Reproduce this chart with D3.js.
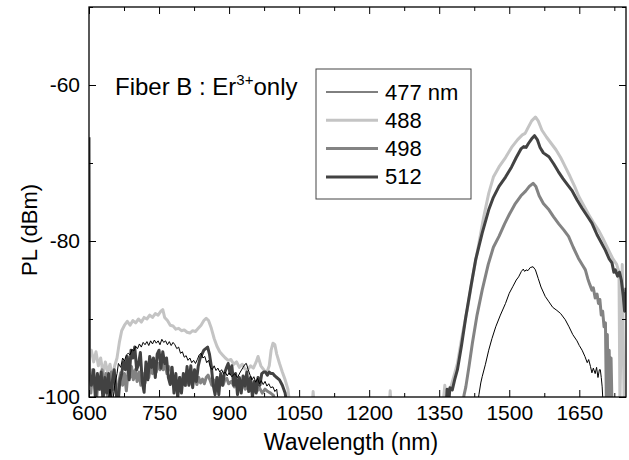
<!DOCTYPE html>
<html>
<head>
<meta charset="utf-8">
<script src="https://cdn.jsdelivr.net/npm/d3@7"></script>
<style>
  body { margin: 0; background: #fff; }
  text { font-family: "Liberation Sans", Arial, sans-serif; fill: #000; }
</style>
</head>
<body>
<div id="canvas"></div>
<script>
"use strict"
let svgWidth = 629;
let svgHeight = 460;

// wavelength (nm), PL (dBm); values under -100 are off the bottom of the plot
let series477 = [
  [640,-101],[645,-99],[650,-101],[655,-98.5],[660,-97],[663,-95.7],[668,-96.2],[672,-95],[676,-95.4],[680,-94.6],
  [684,-94.4],[688,-94.6],[692,-93.9],[696,-94.1],[700,-93.5],[704,-93.8],[708,-93.2],[712,-93.6],[716,-93],[720,-93.3],
  [724,-92.9],[728,-93.4],[732,-92.8],[736,-93.2],[740,-92.7],[744,-93.1],[748,-92.8],[752,-93.3],[756,-92.6],[760,-93],
  [764,-92.8],[768,-93.3],[772,-92.9],[776,-93.4],[780,-93],[784,-93.3],[788,-93.8],[792,-93.6],[796,-94.4],[800,-94.2],
  [804,-94.9],[808,-94.7],[812,-95.3],[816,-95],[820,-95.6],[824,-95.3],[828,-95.7],[832,-95.2],[836,-94.6],[840,-94.4],
  [844,-95],[848,-94.8],[852,-95.6],[856,-95.3],[860,-96.2],[864,-96.5],[868,-96],[872,-96.6],[876,-96.3],[880,-96.8],
  [884,-96.5],[888,-97],[892,-96.8],[896,-97.3],[900,-96.9],[906,-97.4],[912,-97],[918,-97.5],[924,-96.8],[930,-96.2],
  [934,-95.8],[937,-95.7],[941,-96.5],[945,-97.2],[949,-97.8],[953,-97.4],[957,-98.1],[961,-97.6],[965,-98.3],[969,-97.9],
  [973,-98.4],[977,-98],[981,-98.6],[985,-98.3],[989,-98.8],[994,-98.7],[998,-99.3],[1002,-99],[1006,-101],
  [1432,-101],[1435,-99.7],[1439,-98.2],[1442,-97.4],[1449,-95.8],[1456,-94],[1463,-92.5],[1471,-91],[1481,-89.5],[1492,-88],
  [1500,-86.7],[1508,-85.8],[1515,-85],[1520,-84.6],[1526,-83.9],[1530,-83.6],[1533,-83.9],[1536,-83.7],[1540,-83.8],[1545,-83.4],
  [1551,-83.3],[1556,-83.7],[1562,-84.8],[1568,-85.9],[1577,-87.1],[1585,-87.8],[1593,-88.5],[1602,-88.9],[1610,-89.3],[1620,-90.1],
  [1628,-91],[1636,-92],[1645,-92.8],[1650,-93.4],[1656,-94],[1662,-94.8],[1667,-95.6],[1670,-95.2],[1674,-96.1],[1677,-96.9],
  [1680,-96.3],[1684,-97],[1687,-96.2],[1690,-97.5],[1693,-96.5],[1695,-96.5],[1697,-97.5],[1699,-98.7],[1701,-101]
];

let series488 = [
  [600,-95],[605,-94],[610,-95.5],[615,-94.2],[620,-96],[625,-95],[630,-97],[635,-95.5],[640,-96.8],[645,-95.8],
  [650,-97.5],[655,-96],[660,-95],[665,-93],[670,-91.5],[676,-90.8],[682,-90.3],[688,-90.8],[694,-90.2],[700,-90.5],
  [706,-90],[712,-90.4],[718,-89.8],[724,-90],[730,-89.5],[736,-89.8],[742,-89.3],[748,-89.5],[754,-89],[758,-88.8],
  [762,-89.8],[768,-90.2],[774,-90.8],[780,-90.9],[786,-91.3],[792,-91.2],[798,-91.5],[804,-91.4],[810,-91.7],[816,-91.8],
  [822,-91.5],[828,-91.6],[834,-91.2],[840,-90.8],[846,-90.2],[851,-89.9],[856,-90.2],[862,-91.2],[868,-92.5],[874,-93.5],
  [880,-94.2],[886,-94.6],[892,-95],[898,-95.3],[904,-95.2],[910,-95.8],[916,-95.5],[922,-96.2],[928,-95.8],[934,-96.4],
  [940,-96.5],[946,-96],[952,-96.3],[958,-95.5],[962,-94.8],[968,-96],[974,-96.5],[980,-97],[986,-96],[990,-94],
  [994,-93.1],[998,-93.3],[1002,-94.5],[1008,-95.7],[1014,-96.8],[1020,-97.8],[1026,-99],[1030,-101],
  [1078,-101],[1080,-99.3],[1082,-101],[1243,-101],[1245,-99.2],[1247,-101],
  [1358,-101],[1362,-98.5],[1365,-101],[1368,-99.5],[1375,-98.7],[1382,-97.2],[1389,-95.7],[1398,-92.5],[1410,-88.8],[1422,-84.5],
  [1435,-80.3],[1445,-77],[1456,-73.9],[1466,-71.8],[1478,-70.5],[1492,-69.3],[1505,-68],[1518,-67],[1528,-66.4],[1534,-66.2],
  [1540,-65.5],[1548,-64.6],[1556,-64.1],[1562,-64.6],[1570,-65.8],[1580,-66.7],[1590,-67.5],[1600,-68.3],[1610,-69.3],[1620,-70.5],
  [1630,-71.7],[1640,-73],[1649,-74.3],[1660,-75.5],[1670,-76.6],[1680,-77.6],[1691,-78.6],[1700,-79.6],[1713,-81.2],[1722,-82.3],
  [1730,-83],[1735,-84],[1737,-101],[1742,-83],[1746,-101]
];

let series498 = [
  [600,-97],[604,-99.5],[608,-96.5],[612,-98],[616,-100.5],[620,-97.5],[624,-99],[628,-96.5],[632,-98.8],[636,-97],
  [640,-100.5],[644,-98],[648,-96.8],[652,-99],[656,-97.5],[660,-100.5],[664,-98],[668,-96.9],[672,-98.5],[676,-97],
  [680,-99.2],[684,-96.5],[688,-97.5],[691,-96.1],[695,-97.8],[699,-96.5],[703,-98],[707,-96.8],[711,-98.5],[715,-97],
  [720,-98.2],[724,-96.8],[728,-97.5],[732,-96.1],[736,-97],[740,-95.9],[744,-96.8],[748,-95.7],[752,-96.5],[755,-95.7],
  [759,-96.5],[763,-95.8],[767,-97],[771,-96.1],[775,-96.5],[779,-97.5],[783,-98],[787,-98.5],[791,-98.7],[795,-97.5],
  [799,-98.3],[803,-97.5],[807,-98.5],[811,-97.8],[815,-98.3],[819,-97.5],[823,-98],[827,-97.6],[831,-98.4],[835,-97.5],
  [839,-98.2],[843,-97.7],[847,-98.3],[851,-97.5],[855,-97.2],[859,-97.8],[863,-98.5],[867,-97.8],[871,-98.3],[875,-97.5],
  [879,-98.2],[883,-97.8],[887,-98.5],[891,-97.8],[895,-97.6],[899,-98.3],[905,-98],[911,-98.7],[917,-98.2],[923,-98.8],
  [929,-98.3],[935,-99],[941,-98.5],[947,-99.2],[953,-98.7],[959,-99.3],[965,-98.8],[971,-99.5],[977,-99],[983,-99.3],
  [989,-99.5],[995,-99.8],[1000,-101],
  [1400,-101],[1403,-99.8],[1407,-98.7],[1414,-96],[1421,-93.1],[1431,-89.5],[1442,-86.3],[1455,-83],[1466,-80.8],[1478,-79.4],
  [1490,-77.8],[1500,-76.6],[1513,-75.2],[1525,-74.2],[1535,-73.6],[1543,-73],[1551,-72.6],[1557,-73],[1564,-74.2],[1573,-75.2],
  [1585,-76],[1595,-76.9],[1606,-77.8],[1617,-78.6],[1627,-79.4],[1637,-80.8],[1648,-82.2],[1658,-83.2],[1663,-83.7],[1668,-84.8],
  [1672,-85.5],[1677,-86.3],[1680,-86],[1684,-87.3],[1688,-86.8],[1691,-88],[1694,-87.5],[1697,-89.5],[1700,-89],[1703,-91],
  [1706,-90.5],[1708,-101],[1710,-92],[1712,-101],[1714,-94],[1716,-101],[1718,-95],[1720,-101]
];

let series512 = [
  [600,-66.7],[601,-97],[605,-98.5],[610,-96.5],[614,-100.5],[618,-97],[622,-99],[626,-96.8],[630,-100.5],[634,-97.5],
  [638,-99.5],[642,-97],[646,-100.5],[650,-98],[654,-96.5],[658,-99.5],[662,-101],[666,-98],[670,-97],[674,-95.5],
  [678,-96.5],[682,-94.8],[686,-97.8],[690,-94],[694,-95],[698,-93.6],[702,-96.5],[706,-95.8],[710,-94.3],[714,-98],
  [718,-99.4],[722,-95.5],[726,-97.8],[730,-94.8],[734,-96.2],[738,-95],[742,-97.5],[746,-94.5],[750,-94],[754,-96.3],
  [758,-94.2],[762,-95.7],[766,-95],[770,-97.5],[774,-98.4],[778,-96.2],[782,-99.5],[786,-97],[790,-100.1],[794,-97.5],
  [798,-99.5],[802,-97],[806,-98.5],[810,-96.1],[814,-98.5],[818,-96],[822,-98.8],[826,-96.5],[830,-98],[834,-96],
  [838,-95],[842,-94.5],[846,-94],[850,-93.8],[854,-93.6],[858,-94.5],[862,-96.1],[866,-98.5],[870,-99.7],[874,-97.5],
  [878,-99.7],[882,-97],[886,-98.5],[890,-97],[894,-96.3],[898,-95.7],[902,-97],[906,-96],[910,-98.5],[914,-97],
  [918,-99.7],[922,-97.5],[926,-99.5],[930,-97.3],[934,-98.6],[938,-96.8],[942,-99.3],[946,-97.5],[950,-100],[954,-98],
  [958,-99.5],[962,-97.5],[966,-98.5],[970,-97],[974,-96.8],[978,-96.8],[982,-97.2],[986,-96.8],[990,-97],[994,-97],
  [998,-97.3],[1002,-97.5],[1008,-97.8],[1014,-98.5],[1020,-99.5],[1024,-101],
  [1365,-101],[1367,-99],[1370,-101],[1373,-98.8],[1378,-99.1],[1383,-97.8],[1389,-96.5],[1398,-93.3],[1407,-89.7],[1418,-85.8],
  [1428,-82.4],[1442,-79],[1456,-76],[1466,-74.4],[1478,-73],[1492,-71.8],[1505,-70.5],[1515,-69.3],[1525,-68.2],[1531,-67.9],
  [1536,-68],[1541,-67.5],[1548,-66.9],[1554,-66.5],[1560,-67],[1566,-68],[1573,-68.7],[1585,-69.2],[1595,-70.1],[1605,-71.1],
  [1615,-72],[1625,-72.8],[1634,-73.5],[1645,-74.7],[1656,-75.8],[1667,-76.8],[1677,-77.7],[1688,-79.2],[1697,-80.2],[1706,-81.2],
  [1714,-82.3],[1720,-82.8],[1724,-84],[1727,-83.7],[1732,-84.5],[1736,-84],[1740,-85],[1744,-87],[1747,-89],[1750,-86]
];

let legendLabels = ["477 nm", "488", "498", "512"];
let xTickValues = [600, 750, 900, 1050, 1200, 1350, 1500, 1650];
let xMinorValues = [675, 825, 975, 1125, 1275, 1425, 1575, 1725];
let yTickValues = [-100, -80, -60];
let yMinorValues = [-90, -70, -50];

let seriesList = [
  {data: series477, color: "#000000", width: 1},
  {data: series488, color: "#c4c4c4", width: 3},
  {data: series498, color: "#838383", width: 3},
  {data: series512, color: "#424242", width: 3}
];

let plotLeft = 89;
let plotRight = 626;
let plotTop = 7;
let plotBottom = 397;

let svg = d3.select("#canvas")
  .append("svg")
  .attr("width", svgWidth)
  .attr("height", svgHeight);

let xScale = d3.scaleLinear()
  .domain([600, 1750])
  .range([plotLeft, plotRight]);

let yScale = d3.scaleLinear()
  .domain([-100, -50])
  .range([plotBottom, plotTop]);

svg.append("clipPath")
  .attr("id", "plotClip")
  .append("rect")
  .attr("x", plotLeft)
  .attr("y", plotTop)
  .attr("width", plotRight - plotLeft)
  .attr("height", plotBottom - plotTop);

let line = d3.line()
  .x(function(d) { return xScale(d[0]); })
  .y(function(d) { return yScale(d[1]); });

let lines = svg.append("g").attr("clip-path", "url(#plotClip)");

// draw the light ones first so the dark ones sit on top, 477 last
let drawOrder = [1, 2, 3, 0];
for (let i of drawOrder) {
  lines.append("path")
    .datum(seriesList[i].data)
    .attr("fill", "none")
    .attr("stroke", seriesList[i].color)
    .attr("stroke-width", seriesList[i].width)
    .attr("stroke-linejoin", "round")
    .attr("d", line);
}

// plain numbers, hyphen minus, no thousands comma
let plainFormat = function(d) { return String(d); };

// axes, ticks pointing inward
function styleAxis(g) {
  g.select(".domain").remove();
  g.selectAll("line").attr("stroke", "#000").attr("stroke-width", 1);
  g.selectAll("text")
    .attr("font-family", "Liberation Sans, Arial, sans-serif")
    .attr("font-size", 21)
    .attr("fill", "#000");
}

svg.append("g")
  .attr("transform", "translate(0," + plotBottom + ")")
  .call(d3.axisBottom(xScale).tickValues(xTickValues).tickSize(-7).tickSizeOuter(0).tickPadding(8).tickFormat(plainFormat))
  .call(styleAxis);

svg.append("g")
  .attr("transform", "translate(0," + plotBottom + ")")
  .call(d3.axisBottom(xScale).tickValues(xMinorValues).tickSize(-4).tickSizeOuter(0).tickFormat(""))
  .call(styleAxis);

svg.append("g")
  .attr("transform", "translate(0," + plotTop + ")")
  .call(d3.axisTop(xScale).tickValues(xTickValues).tickSize(-7).tickSizeOuter(0).tickFormat(""))
  .call(styleAxis);

svg.append("g")
  .attr("transform", "translate(0," + plotTop + ")")
  .call(d3.axisTop(xScale).tickValues(xMinorValues).tickSize(-4).tickSizeOuter(0).tickFormat(""))
  .call(styleAxis);

svg.append("g")
  .attr("transform", "translate(" + plotLeft + ",0)")
  .call(d3.axisLeft(yScale).tickValues(yTickValues).tickSize(-7).tickSizeOuter(0).tickPadding(9).tickFormat(plainFormat))
  .call(styleAxis);

svg.append("g")
  .attr("transform", "translate(" + plotLeft + ",0)")
  .call(d3.axisLeft(yScale).tickValues(yMinorValues).tickSize(-4).tickSizeOuter(0).tickFormat(""))
  .call(styleAxis);

svg.append("g")
  .attr("transform", "translate(" + plotRight + ",0)")
  .call(d3.axisRight(yScale).tickValues(yTickValues).tickSize(-7).tickSizeOuter(0).tickFormat(""))
  .call(styleAxis);

svg.append("g")
  .attr("transform", "translate(" + plotRight + ",0)")
  .call(d3.axisRight(yScale).tickValues(yMinorValues).tickSize(-4).tickSizeOuter(0).tickFormat(""))
  .call(styleAxis);

svg.append("rect")
  .attr("x", plotLeft)
  .attr("y", plotTop)
  .attr("width", plotRight - plotLeft)
  .attr("height", plotBottom - plotTop)
  .attr("fill", "none")
  .attr("stroke", "#000")
  .attr("stroke-width", 1.3);

// axis titles
svg.append("text")
  .attr("x", 351)
  .attr("y", 450)
  .attr("text-anchor", "middle")
  .attr("font-size", 23)
  .text("Wavelength (nm)");

svg.append("text")
  .attr("transform", "rotate(-90)")
  .attr("x", -230)
  .attr("y", 37)
  .attr("text-anchor", "middle")
  .attr("font-size", 22)
  .text("PL (dBm)");

// annotation
let note = svg.append("text")
  .attr("x", 115)
  .attr("y", 95)
  .attr("font-size", 24);
note.append("tspan").text("Fiber B : Er");
note.append("tspan").attr("font-size", 15).attr("dy", -10).text("3+");
note.append("tspan").attr("dy", 10).text("only");

// legend
let legendX = 316;
let legendY = 69;

svg.append("rect")
  .attr("x", legendX)
  .attr("y", legendY)
  .attr("width", 155)
  .attr("height", 130)
  .attr("fill", "#fff")
  .attr("stroke", "#444")
  .attr("stroke-width", 1);

for (let i = 0; i < seriesList.length; i++) {
  let yPosition = legendY + 23 + i * 28.3;
  svg.append("line")
    .attr("x1", legendX + 10)
    .attr("x2", legendX + 62)
    .attr("y1", yPosition)
    .attr("y2", yPosition)
    .attr("stroke", seriesList[i].color)
    .attr("stroke-width", seriesList[i].width);

  svg.append("text")
    .attr("x", legendX + 69)
    .attr("y", yPosition)
    .attr("dominant-baseline", "central")
    .attr("font-size", 22)
    .text(legendLabels[i]);
}
</script>
</body>
</html>
